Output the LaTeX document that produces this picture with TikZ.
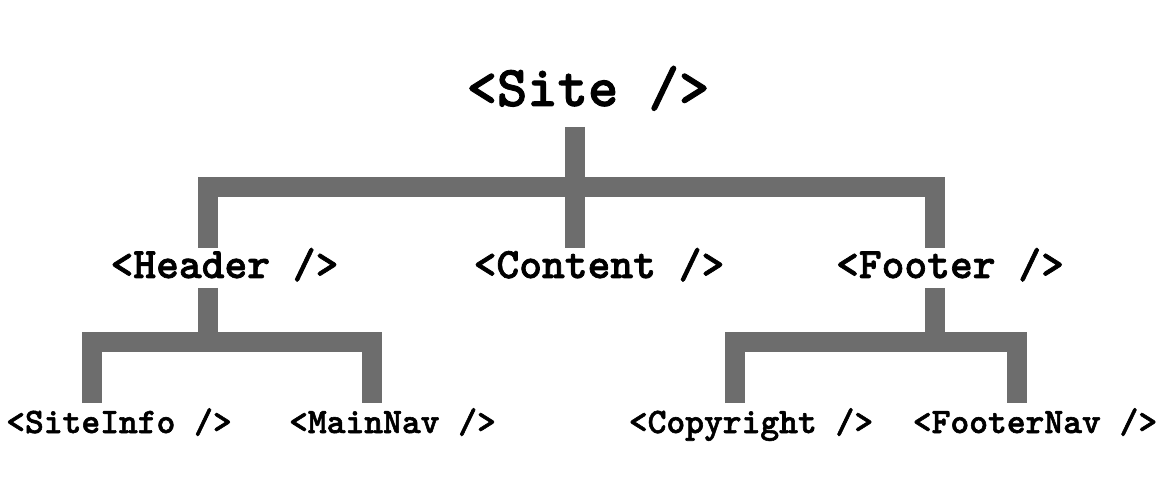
\documentclass[tikz,border=0pt]{standalone}
\usepackage{fontspec}
\newfontfamily\tagfont{lmmonolt10-bold.otf}[FakeBold=1.6]
\usepackage{tikz}

\definecolor{bargray}{RGB}{109,109,109}
\tikzset{
  bar/.style={line width=10pt, draw=bargray, line join=miter, line cap=butt},
  rootlabel/.style={font=\tagfont\fontsize{28.9}{34}\selectfont, inner sep=0pt, anchor=base},
  midlabel/.style={font=\tagfont\fontsize{21.7}{26}\selectfont, inner sep=0pt, anchor=base},
  leaflabel/.style={font=\tagfont\fontsize{17.9}{21}\selectfont, inner sep=0pt, anchor=base},
}

\begin{document}
\begin{tikzpicture}[x=0.5pt,y=-0.5pt]
            \useasboundingbox (0,0) rectangle (1165,496);

            \node[rootlabel] (site) at (588,106) {<Site />};
            \node[midlabel] (header) at (224.5,278) {<Header />};
            \node[midlabel] (content) at (599,278) {<Content />};
            \node[midlabel] (footer) at (950,278) {<Footer />};
            \node[leaflabel] (siteinfo) at (119,433) {<SiteInfo />};
            \node[leaflabel] (mainnav) at (392.5,433) {<MainNav />};
            \node[leaflabel] (copyright) at (751,433) {<Copyright />};
            \node[leaflabel] (footernav) at (1035,433) {<FooterNav />};

            % bar ends
            \coordinate (site-s) at (575,127);
            \coordinate (header-n) at (208,248);
            \coordinate (content-n) at (575,248);
            \coordinate (footer-n) at (935,248);
            \coordinate (header-s) at (208,288);
            \coordinate (footer-s) at (935,288);
            \coordinate (siteinfo-n) at (92,403);
            \coordinate (mainnav-n) at (371.5,403);
            \coordinate (copyright-n) at (735,403);
            \coordinate (footernav-n) at (1017,403);

            \draw[bar] (site-s) -- (content-n);
            \draw[bar] (header-n) |- (footer-n |- 0,187) -- (footer-n);

            \draw[bar] (header-s) -- (208,342);
            \draw[bar] (siteinfo-n) |- (mainnav-n |- 0,342) -- (mainnav-n);

            \draw[bar] (footer-s) -- (935,342);
            \draw[bar] (copyright-n) |- (footernav-n |- 0,342) -- (footernav-n);
        \end{tikzpicture}
\end{document}
